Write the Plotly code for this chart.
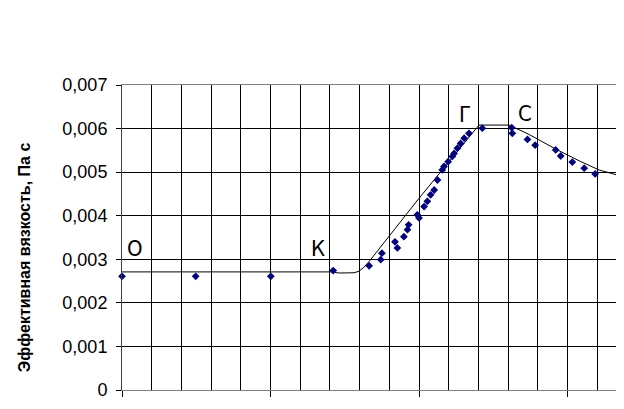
import plotly.graph_objects as go

# measured points (x in arbitrary units, gridline every 10; y in Pa·s)
pts_x = [0, 24.8, 50.1, 71.1, 83.2, 87.1, 87.5, 91.9, 92.7, 94.9, 96.1, 96.5,
         99.4, 100.0, 101.7, 102.8, 103.9, 105.1, 106.2, 107.8, 108.4, 109.8,
         111.2, 111.8, 112.9, 114.0, 115.2, 116.8, 121.3, 131.2, 131.4, 136.5,
         139.1, 146.0, 147.7, 151.6, 155.6, 159.3]
pts_y = [0.00261, 0.00261, 0.00261, 0.00274, 0.00285, 0.00299, 0.00314, 0.00340,
         0.00326, 0.00352, 0.00368, 0.00379, 0.00402, 0.00395, 0.00421, 0.00433,
         0.00448, 0.00459, 0.00482, 0.00505, 0.00513, 0.00524, 0.00536, 0.00543,
         0.00555, 0.00566, 0.00578, 0.00589, 0.00601, 0.00602, 0.00589, 0.00575,
         0.00562, 0.00551, 0.00537, 0.00523, 0.00509, 0.00496]

# model curve
curve_x = [0, 70.4, 73.1, 78.1, 79.8, 81.5, 83.2, 100.0, 120.2, 130.3, 136.9,
           146.0, 153.9, 160.6, 168.5]
curve_y = [0.00271, 0.00271, 0.002685, 0.00269, 0.002726, 0.00282, 0.00295,
           0.00440, 0.00608, 0.00608, 0.00587, 0.00553, 0.00526, 0.00505, 0.00490]

y_tickvals = [0, 0.001, 0.002, 0.003, 0.004, 0.005, 0.006, 0.007]
y_ticktext = ["0", "0,001", "0,002", "0,003", "0,004", "0,005", "0,006", "0,007"]

label_text = ["О", "К", "Г", "С"]
label_x = [4.3, 65.9, 115.6, 135.6]
label_y = [0.00324, 0.00324, 0.00632, 0.00635]

y_title = "Эффективная вязкость, Па с"

fig = go.Figure()
fig.add_trace(go.Scatter(x=curve_x, y=curve_y, mode="lines",
                         line=dict(color="black", width=1), showlegend=False))
fig.add_trace(go.Scatter(x=pts_x, y=pts_y, mode="markers",
                         marker=dict(symbol="diamond", size=6, color="#000080"),
                         cliponaxis=False, showlegend=False))

for t, lx, ly in zip(label_text, label_x, label_y):
    fig.add_annotation(x=lx, y=ly, text=t, showarrow=False, xref="x", yref="y",
                       xanchor="center", yanchor="middle",
                       font=dict(family="Liberation Sans Narrow, DejaVu Sans Condensed, Arial",
                                 size=22, color="black"))

fig.add_annotation(x=-0.195, y=0.436, xref="paper", yref="paper", text="<b>" + y_title + "</b>",
                   textangle=-90, showarrow=False, xanchor="center", yanchor="middle",
                   font=dict(family="Liberation Sans, Arial", size=16, color="black"))

fig.update_layout(
    width=616, height=401,
    margin=dict(l=114, r=0, t=77, b=19, autoexpand=False),
    paper_bgcolor="white", plot_bgcolor="white",
    font=dict(family="Liberation Sans, Arial", color="black"),
    showlegend=False,
    xaxis=dict(range=[0, 169], tick0=0, dtick=50, showticklabels=False,
               ticks="outside", ticklen=6, tickcolor="black", tickwidth=1,
               showgrid=True, gridcolor="black", gridwidth=1, zeroline=False,
               showline=True, linecolor="#808080", linewidth=1, mirror=True,
               minor=dict(dtick=10, tick0=0, showgrid=True, gridcolor="black",
                          gridwidth=1, ticks="")),
    yaxis=dict(range=[0, 0.007], tickvals=y_tickvals, ticktext=y_ticktext,
               ticks="outside", ticklen=5, tickcolor="black", tickwidth=1,
               ticklabelstandoff=5,
               tickfont=dict(size=18, family="Liberation Sans, Arial", color="black"),
               showgrid=True, gridcolor="black", gridwidth=1, zeroline=False,
               showline=True, linecolor="#404040", linewidth=1),
)

fig.write_html("out.html")
